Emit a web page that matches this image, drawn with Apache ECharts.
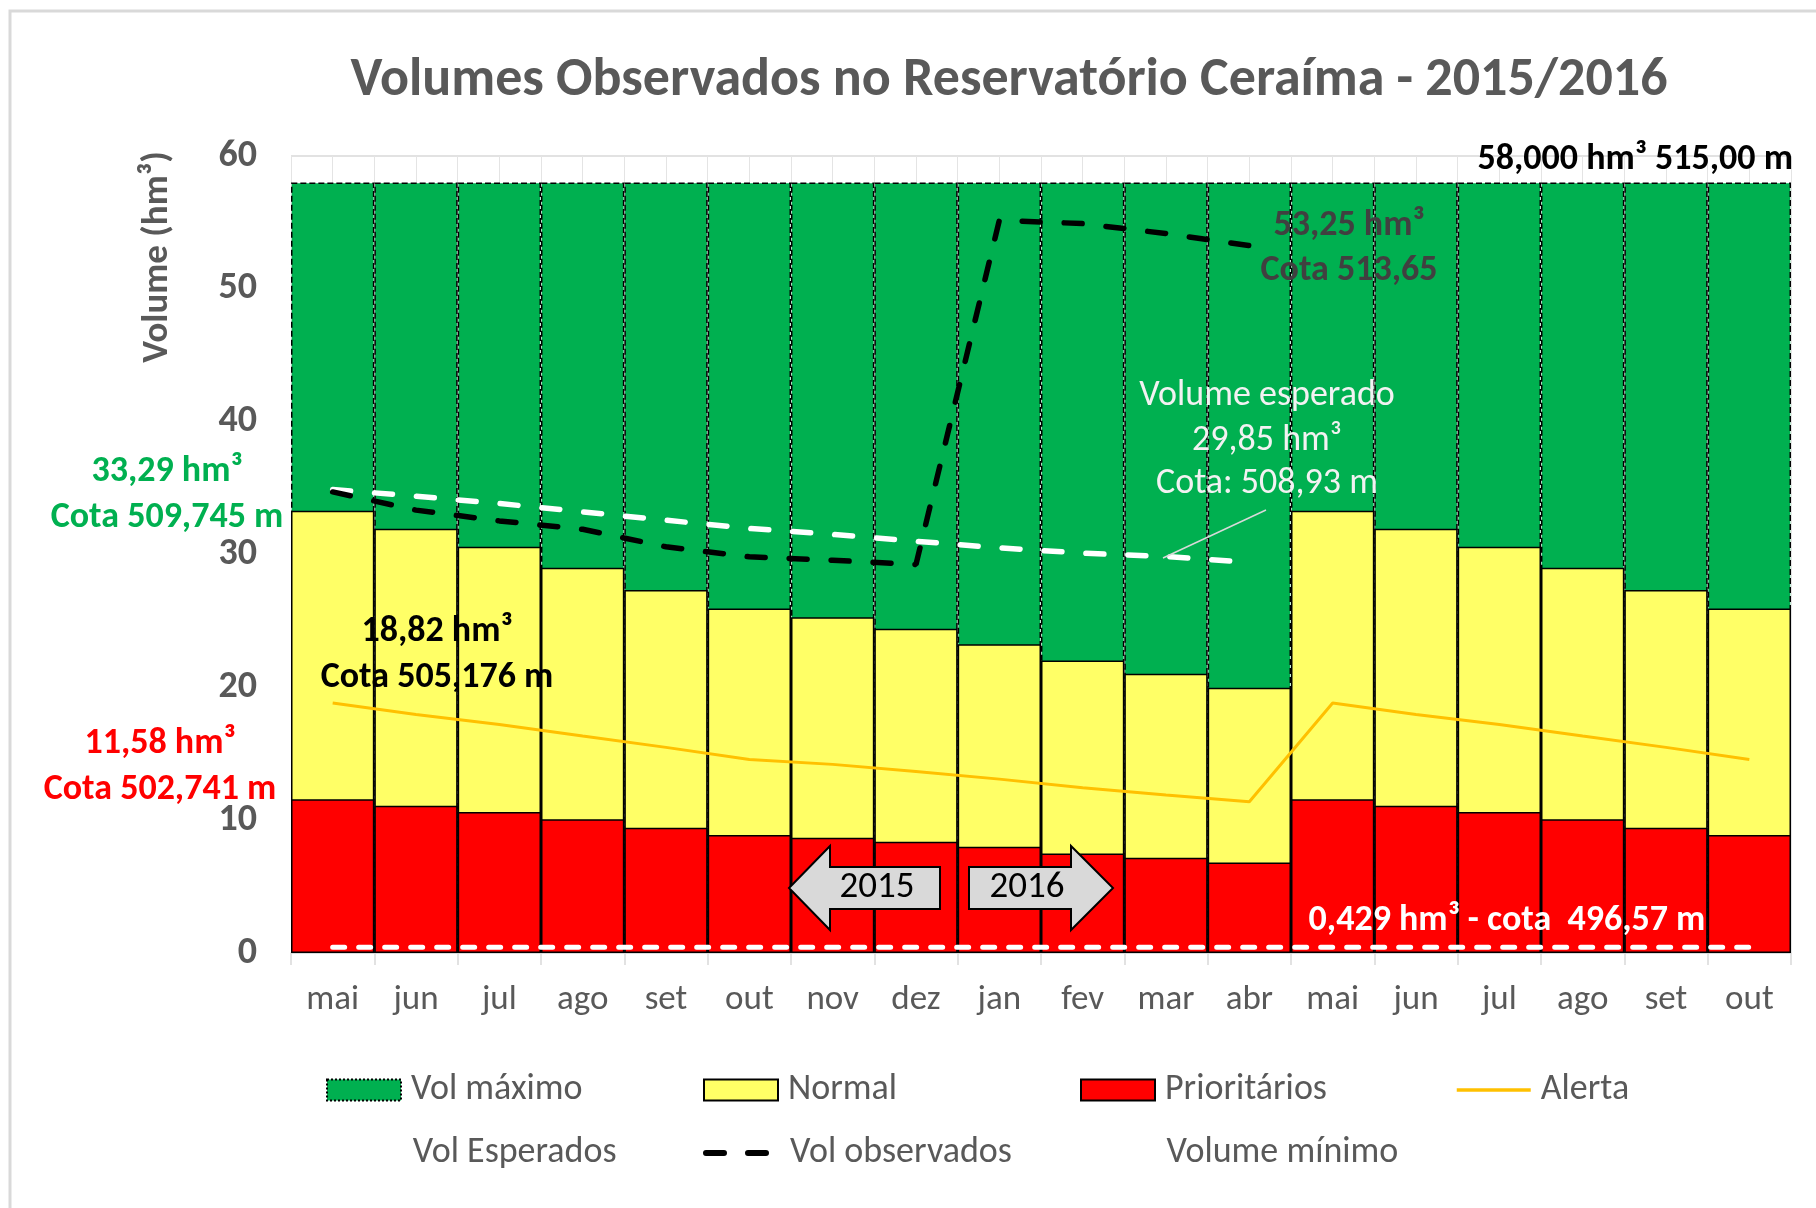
<!DOCTYPE html>
<html><head><meta charset="utf-8">
<script src="https://cdn.jsdelivr.net/npm/echarts@6/dist/echarts.min.js"></script>
<style>html,body{margin:0;padding:0;background:#fff}#c{width:1816px;height:1208px}</style>
</head><body><div id="c"></div>
<script>
const months = ['mai','jun','jul','ago','set','out','nov','dez','jan','fev','mar','abr','mai','jun','jul','ago','set','out'];
const volMaximo = [58, 58, 58, 58, 58, 58, 58, 58, 58, 58, 58, 58, 58, 58, 58, 58, 58, 58];
const normalTop = [33.29, 31.93, 30.58, 29.00, 27.32, 25.94, 25.28, 24.41, 23.25, 22.02, 21.02, 19.97, 33.29, 31.93, 30.58, 29.00, 27.32, 25.94];
const prioritarios = [11.58, 11.09, 10.61, 10.06, 9.43, 8.88, 8.68, 8.38, 8.00, 7.50, 7.17, 6.82, 11.58, 11.09, 10.61, 10.06, 9.43, 8.88];
const alerta = [18.82, 17.96, 17.21, 16.33, 15.48, 14.57, 14.20, 13.67, 13.09, 12.44, 11.89, 11.39, 18.82, 17.96, 17.21, 16.33, 15.48, 14.57];
const volEsperados = [34.89, 34.39, 33.84, 33.21, 32.58, 31.96, 31.51, 31.00, 30.50, 30.10, 29.85, 29.40, null, null, null, null, null, null];
const volObservados = [34.71, 33.34, 32.53, 31.90, 30.58, 29.83, 29.57, 29.25, 55.16, 54.91, 54.16, 53.25, null, null, null, null, null, null];
const volumeMinimo = [0.429, 0.429, 0.429, 0.429, 0.429, 0.429, 0.429, 0.429, 0.429, 0.429, 0.429, 0.429, 0.429, 0.429, 0.429, 0.429, 0.429, 0.429];
const halfSlots = ['','','','','','','','','','','','','','','','','','','','','','','','','','','','','','','','','','','',''];

const FONT = 'Carlito, Lato, sans-serif';
const GRAY = '#595959';

function txt(text, x, y, o) {
  return {type:'text', x:x, y:y, z:100, style:Object.assign({text:text, align:'center', verticalAlign:'middle', font:'bold 36px ' + FONT, fill:'#000'}, o || {})};
}

const chart = echarts.init(document.getElementById('c'), null, {renderer:'canvas'});
const legendBase = {padding:0, itemWidth:74, itemHeight:21, selectedMode:false,
  textStyle:{fontFamily:FONT, fontSize:36, color:GRAY, padding:[0,0,0,5]}};
const hiddenSym = {color:'rgba(0,0,0,0)', borderColor:'rgba(0,0,0,0)', borderWidth:0};
function leg(name, left, top, extra) {
  return Object.assign({}, legendBase, {left:left, top:top, data:[Object.assign({name:name}, extra || {})]});
}

chart.setOption({
  backgroundColor:'#fff',
  animation:false,
  grid:{left:291, right:25, top:156, bottom:255, containLabel:false},
  legend:[
    leg('Vol máximo', 326, 1072, {icon:'rect', itemStyle:{borderType:'dotted', borderColor:'#000', borderWidth:2}}),
    leg('Normal', 703, 1072, {icon:'rect'}),
    leg('Prioritários', 1080, 1072, {icon:'rect'}),
    leg('Alerta', 1455, 1072, {itemStyle:hiddenSym, lineStyle:{width:3.5}}),
    leg('Vol Esperados', 326, 1135, {itemStyle:hiddenSym, lineStyle:{width:5.5}}),
    leg('Vol observados', 703, 1135, {itemStyle:hiddenSym, lineStyle:{width:6, type:[18,24], cap:'round'}}),
    leg('Volume mínimo', 1080, 1135, {itemStyle:hiddenSym, lineStyle:{width:5}})
  ],
  xAxis:[{
    type:'category', data:months, gridIndex:0,
    axisLine:{lineStyle:{color:'#d9d9d9', width:1.5}},
    axisTick:{show:true, length:12, lineStyle:{color:'#d9d9d9', width:1.5}},
    axisLabel:{color:GRAY, fontFamily:FONT, fontSize:35, margin:30, interval:0},
    splitLine:{show:false}
  },{
    type:'category', data:halfSlots, gridIndex:0, position:'top',
    axisLine:{show:false}, axisTick:{show:false}, axisLabel:{show:false},
    splitLine:{show:true, lineStyle:{color:'#e4e4e4', width:1}}
  }],
  yAxis:{
    type:'value', min:0, max:60, interval:10,
    axisLine:{show:false}, axisTick:{show:false},
    axisLabel:{color:GRAY, fontFamily:FONT, fontSize:38, fontWeight:'bold', margin:34},
    splitLine:{lineStyle:{color:'#d9d9d9', width:1.5}}
  },
  series:[
    {name:'Vol máximo', type:'bar', data:volMaximo, barGap:'-100%', barCategoryGap:'0%',
     itemStyle:{color:'#00b050', borderColor:'#000', borderWidth:1.5, borderType:'dashed'}},
    {name:'Normal', type:'bar', data:normalTop, barGap:'-100%', barCategoryGap:'0%',
     itemStyle:{color:'#ffff66', borderColor:'#000', borderWidth:1.5}},
    {name:'Prioritários', type:'bar', data:prioritarios, barGap:'-100%', barCategoryGap:'0%',
     itemStyle:{color:'#ff0000', borderColor:'#000', borderWidth:1.5}},
    {name:'Alerta', type:'line', data:alerta, symbol:'none',
     lineStyle:{color:'#ffc000', width:3}, itemStyle:{color:'#ffc000'}},
    {name:'Vol Esperados', type:'line', data:volEsperados, symbol:'none',
     lineStyle:{color:'#ffffff', width:5.5, type:[18,24], cap:'round'}, itemStyle:{color:'#ffffff'}},
    {name:'Vol observados', type:'line', data:volObservados, symbol:'none',
     lineStyle:{color:'#000000', width:5.5, type:[18,24], cap:'round'}, itemStyle:{color:'#000000'}},
    {name:'Volume mínimo', type:'line', data:volumeMinimo, symbol:'none',
     lineStyle:{color:'#ffffff', width:5, type:[12,14], cap:'round'}, itemStyle:{color:'#ffffff'}}
  ],
  graphic:[
    {type:'rect', z:0, silent:true, shape:{x:10, y:11, width:1830, height:1230}, style:{fill:'none', stroke:'#d9d9d9', lineWidth:3}},
    txt('Volumes Observados no Reservatório Ceraíma - 2015/2016', 1009, 81, {font:'bold 54px ' + FONT, fill:GRAY}),
    {type:'text', x:158, y:257, rotation:Math.PI/2, z:100, style:{text:'Volume (hm³)', align:'center', verticalAlign:'middle', font:'bold 37px ' + FONT, fill:GRAY}},
    txt('58,000 hm³ 515,00 m', 1793, 160, {align:'right'}),
    txt('53,25 hm³', 1349, 226, {fill:'#404040'}),
    txt('Cota 513,65', 1349, 271, {fill:'#404040'}),
    txt('Volume esperado', 1267, 396, {font:'36px ' + FONT, fill:'#f2f2f2'}),
    txt('29,85 hm³', 1267, 441, {font:'36px ' + FONT, fill:'#f2f2f2'}),
    txt('Cota: 508,93 m', 1267, 484, {font:'36px ' + FONT, fill:'#f2f2f2'}),
    {type:'line', z:100, shape:{x1:1163, y1:558, x2:1266, y2:510}, style:{stroke:'#d9d9d9', lineWidth:1.5}},
    txt('33,29 hm³', 167, 472, {fill:'#00b050'}),
    txt('Cota 509,745 m', 167, 518, {fill:'#00b050'}),
    txt('18,82 hm³', 437, 632),
    txt('Cota 505,176 m', 437, 678),
    txt('11,58 hm³', 160, 744, {fill:'#ff0000'}),
    txt('Cota 502,741 m', 160, 790, {fill:'#ff0000'}),
    txt('0,429 hm³ - cota  496,57 m', 1507, 921, {fill:'#ffffff'}),
    {type:'polygon', z:90, shape:{points:[[789,888],[830,846],[830,867],[940,867],[940,909],[830,909],[830,930]]},
     style:{fill:'#d9d9d9', stroke:'#000', lineWidth:2}},
    txt('2015', 877, 888, {font:'37px ' + FONT}),
    {type:'polygon', z:90, shape:{points:[[969,867],[1071,867],[1071,846],[1113,888],[1071,930],[1071,909],[969,909]]},
     style:{fill:'#d9d9d9', stroke:'#000', lineWidth:2}},
    txt('2016', 1027, 888, {font:'37px ' + FONT})
  ]
});
</script></body></html>
